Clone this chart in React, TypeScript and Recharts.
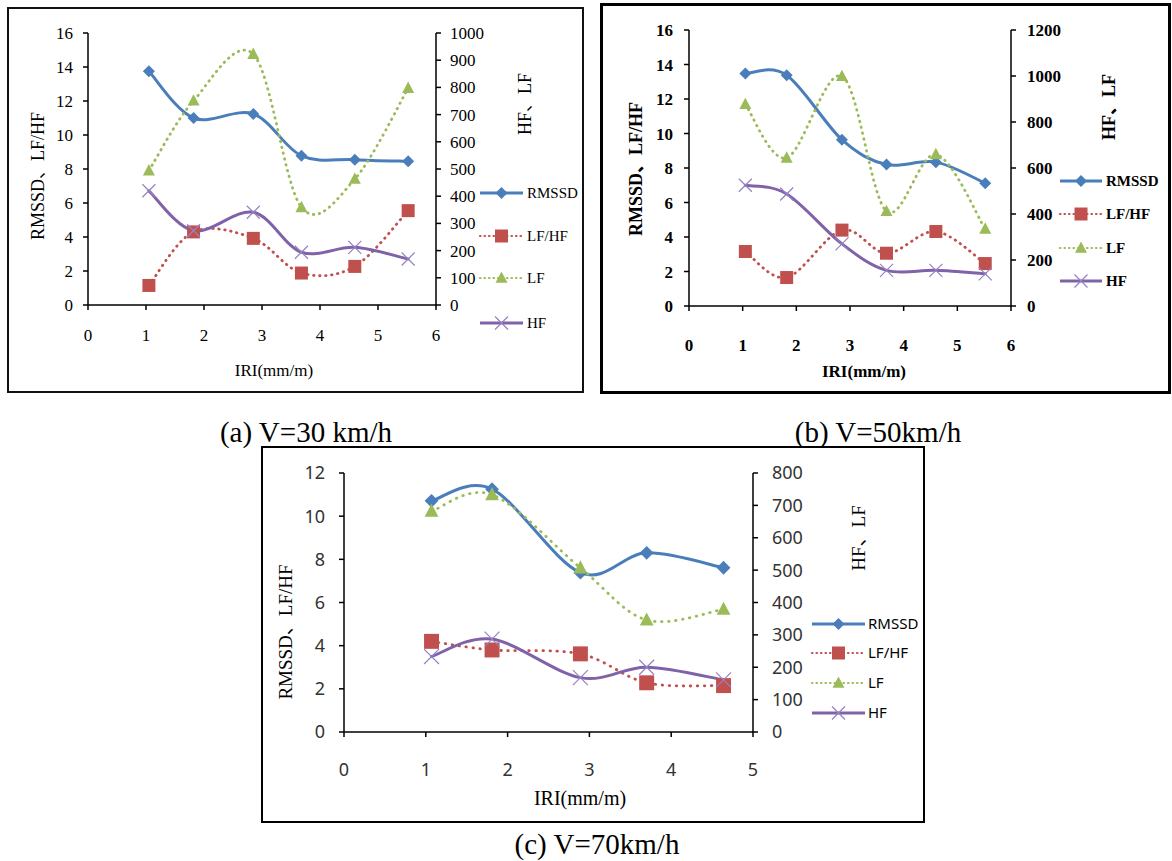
import React from "react";
import { Line, LineChart, XAxis, YAxis } from "recharts";

// IRI (mm/m) positions of the measurements
const iriAB = [1.05, 1.82, 2.85, 3.68, 4.6, 5.52];
const iriC = [1.07, 1.81, 2.89, 3.7, 4.64];

// (a) V=30 km/h
const rmssdA = [13.75, 11.0, 11.24, 8.78, 8.55, 8.45];
const lfhfA = [1.15, 4.3, 3.92, 1.88, 2.27, 5.55];
const lfA = [494, 751, 922, 359, 463, 797];
const hfA = [420, 273, 341, 194, 212, 169];

// (b) V=50 km/h
const rmssdB = [13.48, 13.38, 9.64, 8.2, 8.34, 7.12];
const lfhfB = [3.16, 1.65, 4.4, 3.06, 4.32, 2.46];
const lfB = [877, 644, 999, 412, 659, 335];
const hfB = [525, 487, 270, 155, 155, 140];

// (c) V=70 km/h
const rmssdC = [10.71, 11.25, 7.38, 8.3, 7.61];
const lfhfC = [4.2, 3.8, 3.62, 2.28, 2.15];
const lfC = [682, 733, 507, 346, 379];
const hfC = [233, 287, 168, 200, 161];

const xTicksAB = [0, 1, 2, 3, 4, 5, 6];
const xTicksC = [0, 1, 2, 3, 4, 5];
const leftTicksAB = [0, 2, 4, 6, 8, 10, 12, 14, 16];
const leftTicksC = [0, 2, 4, 6, 8, 10, 12];
const rightTicksA = [0, 100, 200, 300, 400, 500, 600, 700, 800, 900, 1000];
const rightTicksB = [0, 200, 400, 600, 800, 1000, 1200];
const rightTicksC = [0, 100, 200, 300, 400, 500, 600, 700, 800];

const SERIF = "'Liberation Serif', 'Times New Roman', 'Noto Sans CJK SC', serif";
const SANS = "'Noto Sans', 'Open Sans', 'Noto Sans CJK SC', sans-serif";

type Shape = "diamond" | "square" | "triangle" | "x";

const series: { key: string; name: string; color: string; mark: string; width: number; dotted?: boolean; shape: Shape; axis: "left" | "right" }[] = [
  { key: "rmssd", name: "RMSSD", color: "#4a7ebb", mark: "#4a7ebb", width: 3, shape: "diamond", axis: "left" },
  { key: "lfhf", name: "LF/HF", color: "#c0504d", mark: "#c0504d", width: 2.8, dotted: true, shape: "square", axis: "left" },
  { key: "lf", name: "LF", color: "#9bbb59", mark: "#9bbb59", width: 2.8, dotted: true, shape: "triangle", axis: "right" },
  { key: "hf", name: "HF", color: "#7f62a8", mark: "#9582c4", width: 3, shape: "x", axis: "right" },
];

// Excel-style smoothed line (Catmull-Rom through the points)
const excelCurve = (context: any) => {
  let pts: number[][] = [];
  return {
    areaStart() {},
    areaEnd() {},
    lineStart() {
      pts = [];
    },
    point(x: number, y: number) {
      pts.push([+x, +y]);
    },
    lineEnd() {
      const n = pts.length;
      if (!n) return;
      context.moveTo(pts[0][0], pts[0][1]);
      for (let i = 0; i < n - 1; i++) {
        const p0 = pts[i - 1] || pts[i];
        const p1 = pts[i];
        const p2 = pts[i + 1];
        const p3 = pts[i + 2] || p2;
        context.bezierCurveTo(
          p1[0] + (p2[0] - p0[0]) / 6,
          p1[1] + (p2[1] - p0[1]) / 6,
          p2[0] - (p3[0] - p1[0]) / 6,
          p2[1] - (p3[1] - p1[1]) / 6,
          p2[0],
          p2[1]
        );
      }
    },
  };
};

function Marker({ shape, cx, cy, color, s }: { shape: Shape; cx: number; cy: number; color: string; s: number }) {
  if (shape === "diamond") return <path d={`M${cx},${cy - s} L${cx + s},${cy} L${cx},${cy + s} L${cx - s},${cy} Z`} fill={color} />;
  if (shape === "square") return <rect x={cx - s} y={cy - s} width={2 * s} height={2 * s} fill={color} />;
  if (shape === "triangle")
    return <path d={`M${cx},${cy - s * 1.1} L${cx + s},${cy + s * 0.8} L${cx - s},${cy + s * 0.8} Z`} fill={color} />;
  return <path d={`M${cx - s},${cy - s} L${cx + s},${cy + s} M${cx + s},${cy - s} L${cx - s},${cy + s}`} stroke={color} strokeWidth={1.2} fill="none" />;
}

const markSize: Record<Shape, number> = { diamond: 6, square: 6.5, triangle: 6, x: 6.5 };

function buildRows(x: number[], rmssd: number[], lfhf: number[], lf: number[], hf: number[]) {
  return x.map((v, i) => ({ x: v, rmssd: rmssd[i], lfhf: lfhf[i], lf: lf[i], hf: hf[i] }));
}

type PanelProps = {
  left: number;
  top: number;
  w: number;
  h: number;
  plot: { l: number; r: number; t: number; b: number };
  data: any[];
  xTicks: number[];
  leftTicks: number[];
  rightTicks: number[];
  font: string;
  fontSize: number;
  bold?: boolean;
  tickColor: string;
  leftGap: number;
  rightGap: number;
  xGap: number;
  scale: number;
  dotGap: number;
};

function Panel(p: PanelProps) {
  const tick = { fill: p.tickColor, fontSize: p.fontSize, fontFamily: p.font, fontWeight: p.bold ? 700 : 400 };
  const axisLine = { stroke: "#000", strokeWidth: 1.5 };
  return (
    <div style={{ position: "absolute", left: p.left, top: p.top, width: p.w, height: p.h }}>
      <LineChart
        width={p.w}
        height={p.h}
        data={p.data}
        margin={{ top: p.plot.t - p.top, right: 0, bottom: 0, left: 0 }}
      >
        <XAxis
          type="number"
          dataKey="x"
          domain={[p.xTicks[0], p.xTicks[p.xTicks.length - 1]]}
          ticks={p.xTicks}
          interval={0}
          height={p.top + p.h - p.plot.b}
          axisLine={axisLine}
          tickLine={{ stroke: "#000", strokeWidth: 1.5 }}
          tickSize={5}
          tickMargin={p.xGap}
          tick={tick}
        />
        <YAxis
          yAxisId="left"
          orientation="left"
          domain={[0, p.leftTicks[p.leftTicks.length - 1]]}
          ticks={p.leftTicks}
          interval={0}
          width={p.plot.l - p.left}
          axisLine={axisLine}
          tickLine={{ stroke: "#000", strokeWidth: 1.5 }}
          tickSize={5}
          tickMargin={p.leftGap}
          tick={tick}
        />
        <YAxis
          yAxisId="right"
          orientation="right"
          domain={[0, p.rightTicks[p.rightTicks.length - 1]]}
          ticks={p.rightTicks}
          interval={0}
          width={p.left + p.w - p.plot.r}
          axisLine={axisLine}
          tickLine={{ stroke: "#000", strokeWidth: 1.5 }}
          tickSize={5}
          tickMargin={p.rightGap}
          tick={{ ...tick, textAnchor: "start" }}
        />
        {series.map((s) => (
          <Line
            key={s.key}
            yAxisId={s.axis}
            dataKey={s.key}
            name={s.name}
            type={excelCurve as any}
            stroke={s.color}
            strokeWidth={s.width}
            strokeDasharray={s.dotted ? `0.5 ${p.dotGap}` : undefined}
            strokeLinecap="round"
            activeDot={false}
            isAnimationActive={false}
            dot={(d: any) => (
              <Marker key={`${s.key}-${d.index}`} shape={s.shape} cx={d.cx} cy={d.cy} color={s.mark} s={markSize[s.shape] * p.scale} />
            )}
          />
        ))}
      </LineChart>
    </div>
  );
}

function LegendBlock({ x1, x2, tx, rows, font, size, bold, scale }: { x1: number; x2: number; tx: number; rows: number[]; font: string; size: number; bold?: boolean; scale: number }) {
  return (
    <g>
      {series.map((s, i) => (
        <g key={s.key}>
          <line
            x1={x1}
            x2={x2}
            y1={rows[i]}
            y2={rows[i]}
            stroke={s.color}
            strokeWidth={s.dotted ? 2.2 : s.width}
            strokeDasharray={s.dotted ? "0.5 4" : undefined}
            strokeLinecap={s.dotted ? "round" : "butt"}
          />
          <Marker shape={s.shape} cx={(x1 + x2) / 2} cy={rows[i]} color={s.mark} s={markSize[s.shape] * scale} />
          <text x={tx} y={rows[i]} dy="0.35em" fontFamily={font} fontSize={size} fontWeight={bold ? 700 : 400} fill="#000">
            {s.name}
          </text>
        </g>
      ))}
    </g>
  );
}

function VText({ x, y, size, font, bold, children }: { x: number; y: number; size: number; font: string; bold?: boolean; children: React.ReactNode }) {
  return (
    <text x={x} y={y} transform={`rotate(-90 ${x} ${y})`} textAnchor="middle" dy="0.35em" fontFamily={font} fontSize={size} fontWeight={bold ? 700 : 400} fill="#000">
      {children}
    </text>
  );
}

export default function App() {
  const dataA = buildRows(iriAB, rmssdA, lfhfA, lfA, hfA);
  const dataB = buildRows(iriAB, rmssdB, lfhfB, lfB, hfB);
  const dataC = buildRows(iriC, rmssdC, lfhfC, lfC, hfC);

  return (
    <div style={{ position: "absolute", left: 0, top: 0, width: 1172, height: 861, background: "#fff", overflow: "hidden" }}>
      <Panel
        left={8} top={8} w={575} h={384}
        plot={{ l: 88, r: 436, t: 33, b: 305 }}
        data={dataA} xTicks={xTicksAB} leftTicks={leftTicksAB} rightTicks={rightTicksA}
        font={SERIF} fontSize={17} tickColor="#000" leftGap={10} rightGap={9} xGap={19} scale={1} dotGap={5.5}
      />
      <Panel
        left={601} top={4} w={568} h={389}
        plot={{ l: 689, r: 1011, t: 30, b: 306 }}
        data={dataB} xTicks={xTicksAB} leftTicks={leftTicksAB} rightTicks={rightTicksB}
        font={SERIF} fontSize={17} bold tickColor="#000" leftGap={11} rightGap={11} xGap={28} scale={1} dotGap={5.5}
      />
      <Panel
        left={262} top={447} w={662} h={375}
        plot={{ l: 344, r: 753, t: 473, b: 732 }}
        data={dataC} xTicks={xTicksC} leftTicks={leftTicksC} rightTicks={rightTicksC}
        font={SANS} fontSize={18} tickColor="#333" leftGap={14} rightGap={14} xGap={26} scale={1.15} dotGap={6.5}
      />

      <div style={{ position: "absolute", left: 7, top: 7, width: 577, height: 386, border: "2px solid #111", boxSizing: "border-box" }} />
      <div style={{ position: "absolute", left: 600, top: 3, width: 571, height: 391, border: "3px solid #000", boxSizing: "border-box" }} />
      <div style={{ position: "absolute", left: 261, top: 446, width: 664, height: 377, border: "2.5px solid #000", boxSizing: "border-box" }} />

      <svg width={1172} height={861} style={{ position: "absolute", left: 0, top: 0, pointerEvents: "none" }}>
        {/* (a) */}
        <VText x={38} y={176} size={18} font={SERIF}>RMSSD、LF/HF</VText>
        <VText x={525} y={104} size={18} font={SERIF}>HF、LF</VText>
        <text x={274} y={370} textAnchor="middle" dy="0.35em" fontFamily={SERIF} fontSize={17} fill="#000">IRI(mm/m)</text>
        <LegendBlock x1={480} x2={523} tx={527} rows={[193, 236, 278, 323]} font={SERIF} size={15} scale={1} />

        {/* (b) */}
        <VText x={636} y={169} size={18} font={SERIF} bold>RMSSD、LF/HF</VText>
        <VText x={1109} y={107} size={18} font={SERIF} bold>HF、LF</VText>
        <text x={864} y={371} textAnchor="middle" dy="0.35em" fontFamily={SERIF} fontSize={17} fontWeight={700} fill="#000">IRI(mm/m)</text>
        <LegendBlock x1={1060} x2={1102} tx={1106} rows={[181, 214, 248, 281]} font={SERIF} size={15} bold scale={1} />

        {/* (c) */}
        <VText x={285} y={632} size={19} font={SERIF}>RMSSD、LF/HF</VText>
        <VText x={858} y={538} size={19} font={SERIF}>HF、LF</VText>
        <text x={580} y={798} textAnchor="middle" dy="0.35em" fontFamily={SERIF} fontSize={20} fill="#000">IRI(mm/m)</text>
        <LegendBlock x1={812} x2={865} tx={868} rows={[624, 653, 683, 713]} font={SANS} size={15} scale={1} />

        {/* captions */}
        <text x={306} y={442} textAnchor="middle" fontFamily={SERIF} fontSize={29} fill="#000">(a) V=30 km/h</text>
        <text x={878} y={442} textAnchor="middle" fontFamily={SERIF} fontSize={29} fill="#000">(b) V=50km/h</text>
        <text x={597} y={854} textAnchor="middle" fontFamily={SERIF} fontSize={29} fill="#000">(c) V=70km/h</text>
      </svg>
    </div>
  );
}
